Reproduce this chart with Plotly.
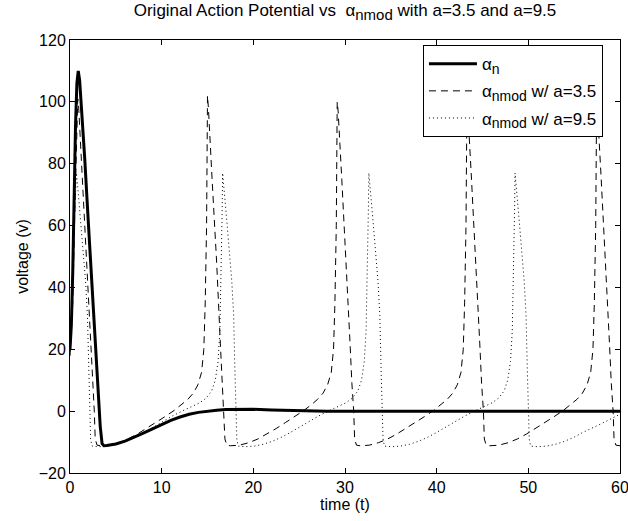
import plotly.graph_objects as go

# time axis values and voltages
t_orig = [0, 0.15, 0.3, 0.45, 0.6, 0.75, 0.9, 1.05, 1.3, 1.6, 2.0, 2.4, 2.8, 3.1, 3.3, 3.5, 3.7, 4.0,
          5, 6, 7, 8, 9, 10, 11, 12, 13, 14, 15, 16, 17, 18, 20, 22, 24, 26, 28, 60]
v_orig = [20, 28, 45, 70, 92, 106, 110, 107, 96, 82, 61, 40, 19, 3, -5, -10.5, -11.2, -11.1,
          -10.6, -9.7, -8.5, -7.1, -5.7, -4.3, -3.0, -1.9, -1.0, -0.4, 0.0, 0.3, 0.5, 0.6, 0.6, 0.4, 0.2, 0.05, 0, 0]

t_a35 = [0, 0.3, 0.55, 0.75, 0.85, 0.95, 1.35, 1.85, 2.25, 2.45, 2.65, 2.75, 2.95,
         3.35, 4.35, 5.35, 6.35, 7.35, 8.35, 9.35, 10.35, 11.35, 12.15, 12.85, 13.45, 13.95, 14.35, 14.6, 14.75, 14.9, 15.0,
         15.1, 15.5, 16.0, 16.4, 16.6, 16.8, 16.9, 17.1,
         17.5, 18.5, 19.5, 20.5, 21.5, 22.5, 23.5, 24.5, 25.5, 26.3, 27.0, 27.6, 28.1, 28.5, 28.75, 28.9, 29.05, 29.15,
         29.25, 29.65, 30.15, 30.55, 30.75, 30.95, 31.05, 31.25,
         31.65, 32.65, 33.65, 34.65, 35.65, 36.65, 37.65, 38.65, 39.65, 40.45, 41.15, 41.75, 42.25, 42.65, 42.9, 43.05, 43.2, 43.3,
         43.4, 43.8, 44.3, 44.7, 44.9, 45.1, 45.2, 45.4,
         45.8, 46.8, 47.8, 48.8, 49.8, 50.8, 51.8, 52.8, 53.8, 54.6, 55.3, 55.9, 56.4, 56.8, 57.05, 57.2, 57.35, 57.45,
         57.55, 57.95, 58.45, 58.85, 59.05, 59.25, 59.35, 59.55, 60]
v_a35 = [18, 35, 68, 95, 101, 98, 75, 48, 22, 9, 0, -9, -11,
         -11.2, -11, -10.2, -9, -7.4, -5.6, -3.7, -1.8, 0.2, 2, 3.8, 5.8, 8.5, 12.5, 20, 35, 60, 102,
         98, 75, 48, 22, 9, 0, -9, -11,
         -11.2, -11, -10.2, -9, -7.4, -5.6, -3.7, -1.8, 0.2, 2, 3.8, 5.8, 8.5, 12.5, 20, 35, 60, 100,
         97, 75, 48, 22, 9, 0, -9, -11,
         -11.2, -11, -10.2, -9, -7.4, -5.6, -3.7, -1.8, 0.2, 2, 3.8, 5.8, 8.5, 12.5, 20, 35, 60, 100,
         97, 75, 48, 22, 9, 0, -9, -11,
         -11.2, -11, -10.2, -9, -7.4, -5.6, -3.7, -1.8, 0.2, 2, 3.8, 5.8, 8.5, 12.5, 20, 35, 60, 100,
         97, 75, 48, 22, 9, 0, -9, -11, -11.2]

t_a95 = [0, 0.25, 0.45, 0.7, 0.8, 1.2, 1.7, 1.9, 2.05, 2.15, 2.25, 2.4,
         3.15, 4.15, 5.15, 6.15, 7.15, 8.15, 9.15, 10.15, 11.15, 12.15, 13.15, 14.15, 14.85, 15.45, 15.85, 16.15, 16.35, 16.5, 16.6, 16.65,
         16.75, 17.15, 17.65, 17.85, 18.0, 18.1, 18.2, 18.35,
         19.1, 20.1, 21.1, 22.1, 23.1, 24.1, 25.1, 26.1, 27.1, 28.1, 29.1, 30.1, 30.8, 31.4, 31.8, 32.1, 32.3, 32.45, 32.55, 32.6,
         32.7, 33.1, 33.6, 33.8, 33.95, 34.05, 34.15, 34.3,
         35.05, 36.05, 37.05, 38.05, 39.05, 40.05, 41.05, 42.05, 43.05, 44.05, 45.05, 46.05, 46.75, 47.35, 47.75, 48.05, 48.25, 48.4, 48.5, 48.55,
         48.65, 49.05, 49.55, 49.75, 49.9, 50.0, 50.1, 50.25,
         51.0, 52.0, 53.0, 54.0, 55.0, 56.0, 57.0, 58.0, 59.0, 60.0]
v_a95 = [18, 35, 60, 77, 74, 60, 42, 31, 12, 0, -9, -11.3,
         -11.5, -11.3, -10.7, -9.7, -8.4, -6.8, -5.0, -3.3, -1.6, -0.1, 1.3, 2.7, 4.2, 6.5, 10, 16, 26, 45, 65, 77,
         74, 60, 42, 31, 12, 0, -9, -11.3,
         -11.5, -11.3, -10.7, -9.7, -8.4, -6.8, -5.0, -3.3, -1.6, -0.1, 1.3, 2.7, 4.2, 6.5, 10, 16, 26, 45, 65, 77,
         74, 60, 42, 31, 12, 0, -9, -11.3,
         -11.5, -11.3, -10.7, -9.7, -8.4, -6.8, -5.0, -3.3, -1.6, -0.1, 1.3, 2.7, 4.2, 6.5, 10, 16, 26, 45, 65, 77,
         74, 60, 42, 31, 12, 0, -9, -11.3,
         -11.5, -11.3, -10.7, -9.7, -8.4, -6.8, -5.5, -4.0, -2.5, -1.0]

x_ticks = [0, 10, 20, 30, 40, 50, 60]
y_ticks = [-20, 0, 20, 40, 60, 80, 100, 120]

SUB = "<sub><span style='font-size:14px'>{}</span></sub>"
names = ["α" + SUB.format("n"),
         "α" + SUB.format("nmod") + " w/ a=3.5",
         "α" + SUB.format("nmod") + " w/ a=9.5"]
title_text = ("Original Action Potential vs  α<sub><span style='font-size:15px'>nmod</span></sub>"
              " with a=3.5 and a=9.5")

FONT = "Liberation Sans, Arial, Helvetica, sans-serif"

fig = go.Figure()
fig.add_trace(go.Scatter(x=t_orig, y=v_orig, mode="lines", name=names[0], legendgroup="g1",
                         line=dict(color="black", width=3)))
fig.add_trace(go.Scatter(x=t_a35, y=v_a35, mode="lines", name=names[1], legendgroup="g2",
                         line=dict(color="black", width=1, dash="7px,5px")))
fig.add_trace(go.Scatter(x=t_a95, y=v_a95, mode="lines", name=names[2], legendgroup="g3",
                         line=dict(color="black", width=1, dash="1px,3px")))

axis_common = dict(showline=True, linecolor="black", linewidth=1, mirror="ticks",
                   ticks="inside", ticklen=5, tickcolor="black", showgrid=False,
                   zeroline=False, automargin=False, ticklabeloverflow="allow",
                   tickfont=dict(family=FONT, size=16, color="black"))

fig.update_layout(
    width=628, height=521,
    margin=dict(l=70, r=8, t=40, b=48),
    paper_bgcolor="white", plot_bgcolor="white",
    font=dict(family=FONT, color="black"),
    title=dict(text=title_text,
               x=0.5, xref="paper", xanchor="center", y=0.992, yanchor="top",
               font=dict(family=FONT, size=17, color="black")),
    xaxis=dict(range=[0, 60], tickvals=x_ticks,
               title=dict(text="time (t)", font=dict(family=FONT, size=16), standoff=0),
               **axis_common),
    yaxis=dict(range=[-20, 120], tickvals=y_ticks,
               title=dict(text="voltage (v)", font=dict(family=FONT, size=16), standoff=6),
               **axis_common),
    legend=dict(x=0.969, xanchor="right", y=0.988, yanchor="top",
                bgcolor="white", bordercolor="black", borderwidth=1,
                font=dict(family=FONT, size=17, color="black"),
                itemwidth=48, tracegroupgap=2),
    showlegend=True,
)

fig.write_html("out.html", config={"displayModeBar": False},
               post_script="document.body.style.margin='0px';")
